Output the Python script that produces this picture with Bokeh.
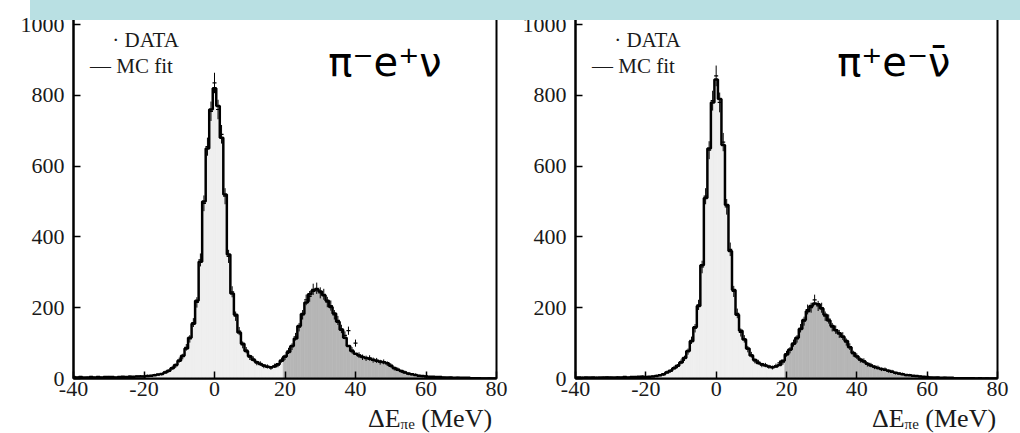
from bokeh.plotting import figure
from bokeh.models import Label, Range1d, Div, ColumnDataSource
from bokeh.layouts import row, column
from bokeh.embed import file_html
from bokeh.resources import INLINE
import numpy as np

# ---------------- data (bin centres in MeV, 1 MeV bins) ----------------
bin_centers = list(range(-40, 81))

mc_left = [4, 3, 4, 3, 3, 4, 3, 4, 3, 4,
           4, 4, 3, 4, 5, 4, 5, 5, 6, 6,
           6, 7, 8, 9, 11, 13, 17, 22, 29, 38,
           50, 64, 85, 115, 155, 220, 330, 500, 650, 760,
           820, 770, 680, 520, 350, 240, 180, 130, 98, 78,
           63, 53, 46, 41, 37, 33, 32, 34, 40, 50,
           62, 75, 92, 113, 148, 182, 215, 238, 248, 252,
           246, 235, 220, 202, 184, 160, 138, 115, 92, 78,
           70, 65, 61, 58, 56, 53, 50, 48, 46, 43,
           36, 30, 25, 21, 17, 14, 12, 10, 8, 7,
           6, 5, 5, 4, 4, 3, 3, 3, 2, 2,
           2, 2, 2, 1, 1, 1, 0, 0, 0, 0, 0]

data_left = [5, 3, 4, 2, 3, 5, 3, 4, 3, 4,
             5, 4, 3, 4, 4, 4, 6, 5, 6, 7,
             6, 8, 8, 10, 11, 12, 18, 21, 30, 36,
             52, 62, 88, 112, 158, 215, 335, 495, 655, 755,
             835, 760, 690, 515, 345, 245, 176, 134, 95, 80,
             60, 55, 44, 42, 35, 34, 30, 36, 38, 52,
             60, 78, 90, 118, 145, 180, 222, 232, 252, 255,
             242, 238, 216, 206, 180, 164, 140, 122, 135, 80,
             100, 66, 60, 57, 58, 52, 51, 46, 47, 42,
             37, 28, 26, 20, 18, 13, 12, 11, 8, 6,
             7, 5, 4, 4, 5, 3, 2, 3, 2, 3,
             2, 1, 2, 1, 1, 2, 0, 0, 1, 0, 0]

mc_right = [3, 3, 2, 3, 3, 3, 2, 3, 3, 3,
            3, 3, 3, 3, 4, 3, 4, 4, 5, 5,
            4, 5, 6, 7, 9, 12, 17, 22, 29, 36,
            45, 58, 78, 105, 145, 205, 320, 510, 650, 780,
            845, 790, 660, 490, 360, 250, 180, 135, 110, 85,
            65, 52, 44, 40, 37, 34, 32, 34, 38, 50,
            68, 82, 98, 115, 140, 165, 190, 205, 212, 210,
            198, 180, 164, 148, 136, 128, 118, 106, 88, 72,
            62, 54, 48, 42, 37, 33, 30, 27, 25, 22,
            19, 16, 14, 12, 10, 9, 8, 7, 6, 5,
            4, 3, 3, 3, 2, 2, 2, 2, 1, 1,
            1, 1, 1, 1, 0, 1, 0, 0, 0, 0, 0]

data_right = [2, 3, 3, 3, 2, 3, 3, 2, 3, 4,
              3, 2, 4, 3, 4, 3, 4, 5, 4, 6,
              5, 5, 6, 8, 9, 11, 18, 21, 30, 35,
              47, 57, 76, 108, 142, 208, 315, 515, 645, 785,
              855, 780, 668, 485, 365, 246, 184, 130, 112, 83,
              67, 50, 46, 38, 38, 33, 31, 36, 44, 46,
              70, 80, 100, 112, 142, 162, 195, 200, 222, 205,
              200, 176, 168, 145, 138, 126, 120, 103, 90, 70,
              63, 52, 50, 40, 38, 32, 31, 26, 26, 21,
              20, 15, 14, 13, 9, 10, 7, 7, 6, 4,
              5, 3, 2, 3, 2, 3, 2, 1, 1, 2,
              1, 0, 1, 1, 0, 1, 0, 1, 0, 0, 0]

split_energy = 20          # MC component boundary (light / dark fill)
x_ticks = [-40, -20, 0, 20, 40, 60, 80]
x_tick_labels = {-40: "-40", -20: "-20", 0: "0", 20: "20", 40: "40", 60: "60", 80: "80"}
y_ticks = [0, 200, 400, 600, 800, 1000]
channel_labels = ["π⁻e⁺ν", "π⁺e⁻ν̄"]
x_title_html = 'ΔE<span style="font-size:15px;position:relative;top:2px;">πe</span> (MeV)'

SERIF = "Liberation Serif"


def make_panel(mc, data, channel, width, b_left, b_right, x_channel):
    p = figure(width=width, height=433,
               x_range=Range1d(-40, 80), y_range=Range1d(0, 1068),
               output_backend="svg", toolbar_location=None,
               min_border_left=b_left, min_border_right=b_right,
               min_border_top=0, min_border_bottom=55)
    p.xgrid.visible = False
    p.ygrid.visible = False
    p.background_fill_color = "white"
    p.border_fill_color = "white"
    p.outline_line_color = "black"
    p.outline_line_width = 2

    c = np.array(bin_centers, dtype=float)
    m = np.array(mc, dtype=float)
    d = np.array(data, dtype=float)
    colors = ["#efefef" if v < split_energy else "#b6b6b6" for v in c]
    src = ColumnDataSource(dict(left=c - 0.5, right=c + 0.5, top=m,
                                bottom=np.zeros_like(m), color=colors))
    p.quad(left="left", right="right", top="top", bottom="bottom",
           fill_color="color", line_color="color", line_width=0.6, source=src)

    err = np.sqrt(d)
    p.segment(x0=c, y0=d - err, x1=c, y1=d + err, line_color="black", line_width=1)
    p.scatter(x=c, y=d, marker="dash", size=4, line_color="black", line_width=1.2)

    p.step(x=c, y=m, mode="center", line_color="black", line_width=2.5)

    for ax in (p.xaxis[0], p.yaxis[0]):
        ax.axis_line_width = 2
        ax.axis_line_color = "black"
        ax.major_tick_in = 7
        ax.major_tick_out = 0
        ax.minor_tick_in = 4
        ax.minor_tick_out = 0
        ax.major_tick_line_width = 1.5
        ax.minor_tick_line_width = 1.2
        ax.major_tick_line_color = "black"
        ax.minor_tick_line_color = "black"
        ax.major_label_text_font = SERIF
        ax.major_label_text_font_size = "22px"
        ax.major_label_text_color = "#1a1a1a"
    p.xaxis[0].ticker = x_ticks
    p.xaxis[0].ticker.num_minor_ticks = 4
    p.xaxis[0].major_label_overrides = x_tick_labels
    p.yaxis[0].ticker = y_ticks
    p.yaxis[0].ticker.num_minor_ticks = 4
    p.xaxis[0].major_label_standoff = 3
    p.yaxis[0].major_label_standoff = 9

    # legend
    p.add_layout(Label(x=-29, y=955, text="· DATA", text_font=SERIF,
                       text_font_size="21px", text_baseline="middle",
                       text_color="#1a1a1a"))
    p.add_layout(Label(x=-35.3, y=884, text="— MC fit", text_font=SERIF,
                       text_font_size="21px", text_baseline="middle",
                       text_color="#1a1a1a"))
    # channel
    p.add_layout(Label(x=x_channel, y=893, text=channel, text_font="DejaVu Sans",
                       text_font_size="40px", text_baseline="middle",
                       text_color="black"))
    return p


p1 = make_panel(mc_left, data_left, channel_labels[0], 510, 73, 14, 32.3)
p2 = make_panel(mc_right, data_right, channel_labels[1], 510, 65, 23, 34.4)

band = Div(text="", width=990, height=20, margin=(-433, 0, 0, 30),
           styles={"background-color": "#b9e0e3"})


def title_div(left_margin):
    html = ('<div style="font-family:\'Liberation Serif\';font-size:26px;'
            'line-height:28px;color:#1a1a1a;white-space:nowrap;'
            'width:140px;height:28px;">' + x_title_html + '</div>')
    return Div(text=html, width=140, height=28, margin=(0, 0, 0, left_margin))


# left title starts at x=368, right title at x=872
titles = row(title_div(368), title_div(872 - 368 - 140), spacing=0,
             margin=(385, 0, 0, 0))

layout = column(row(p1, p2, spacing=0), band, titles, spacing=0)

open("out.html", "w").write(file_html(layout, INLINE))
